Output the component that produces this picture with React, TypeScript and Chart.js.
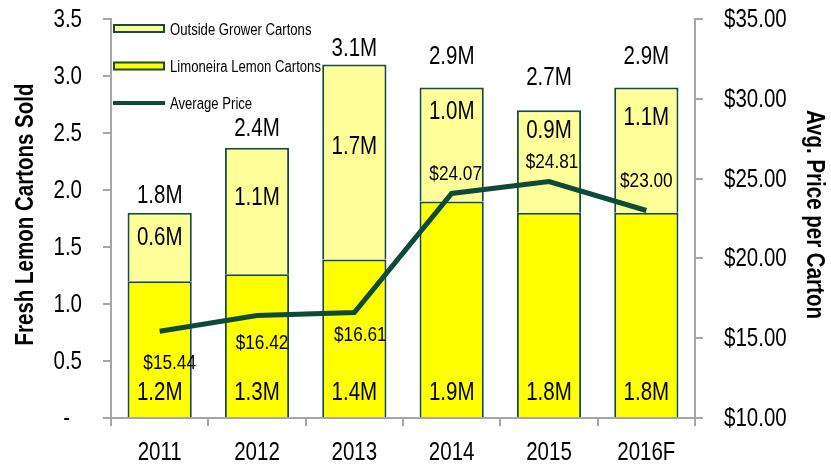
import React, { useEffect, useRef } from 'react';
import { Chart, registerables } from 'chart.js';

Chart.register(...registerables);

const categories = ['2011', '2012', '2013', '2014', '2015', '2016F'];
const limoneiraCartons = [1.2, 1.26, 1.39, 1.9, 1.8, 1.8];
const outsideCartons = [0.6, 1.11, 1.71, 1.0, 0.9, 1.1];
const avgPrice = [15.44, 16.42, 16.61, 24.07, 24.81, 23.0];
const seriesNames = ['Limoneira Lemon Cartons', 'Outside Grower Cartons', 'Average Price'];
const leftTitle = 'Fresh Lemon Cartons Sold';
const rightTitle = 'Avg. Price per Carton';

const FONT = "'Liberation Sans', Arial, sans-serif";
const SX = 0.82; // condensed (Arial Narrow look)
const GREEN = '#0e4a3a';
const BORDER = '#174c3d';
const AXIS = '#a6a6a6';
const YELLOW = '#ffff00';
const LIGHT = '#ffff99';

// label placement (pixel offsets relative to marks)
const totalGap = [10, 12, 9, 23, 25, 23];
const outsideGap = [32, 57, 89, 32, 28, 38];
const priceDx = [10, 5, 6, 4, 3, 0];
const priceDy = [38, 33, 28, -13, -14, -24];

function txt(
  ctx: CanvasRenderingContext2D,
  s: string,
  x: number,
  y: number,
  align: CanvasTextAlign,
  size: number,
  bold = false,
  rot = 0,
) {
  ctx.save();
  ctx.translate(x, y);
  if (rot) ctx.rotate(rot);
  ctx.scale(SX, 1);
  ctx.font = `${bold ? 'bold ' : ''}${size}px ${FONT}`;
  ctx.textAlign = align;
  ctx.textBaseline = 'alphabetic';
  ctx.fillStyle = '#000';
  ctx.fillText(s, 0, 0);
  ctx.restore();
}

const textPlugin = {
  id: 'textPlugin',
  afterDraw(chart: any) {
    const ctx: CanvasRenderingContext2D = chart.ctx;
    const area = chart.chartArea;
    const ys = chart.scales.y;
    const y1s = chart.scales.y1;
    const xs = chart.scales.x;
    const d0 = chart.data.datasets[0].data as number[];
    const d1 = chart.data.datasets[1].data as number[];
    const d2 = chart.data.datasets[2].data as number[];

    // axis tick labels
    ys.ticks.forEach((t: any) => {
      const py = ys.getPixelForValue(t.value);
      if (t.value === 0) txt(ctx, '-', area.left - 41, py + 8, 'right', 25);
      else txt(ctx, Number(t.value).toFixed(1), area.left - 29, py + 8, 'right', 25);
    });
    y1s.ticks.forEach((t: any) => {
      const py = y1s.getPixelForValue(t.value);
      txt(ctx, '$' + Number(t.value).toFixed(2), area.right + 29, py + 8, 'left', 25);
    });
    (chart.data.labels as string[]).forEach((lab, i) => {
      txt(ctx, lab, xs.getPixelForTick(i), area.bottom + 42, 'center', 25);
    });
    const cy = (area.top + area.bottom) / 2 - 4;
    txt(ctx, leftTitle, 33, cy, 'center', 25, true, -Math.PI / 2);
    txt(ctx, rightTitle, chart.width - 24, cy, 'center', 25, true, Math.PI / 2);

    // data labels
    const m0 = chart.getDatasetMeta(0);
    const m1 = chart.getDatasetMeta(1);
    const m2 = chart.getDatasetMeta(2);
    m0.data.forEach((bar: any, i: number) => {
      txt(ctx, d0[i].toFixed(1) + 'M', bar.x, bar.base - 17, 'center', 25);
    });
    m1.data.forEach((bar: any, i: number) => {
      txt(ctx, d1[i].toFixed(1) + 'M', bar.x, bar.y + outsideGap[i], 'center', 25);
      txt(ctx, (d0[i] + d1[i]).toFixed(1) + 'M', bar.x, bar.y - totalGap[i], 'center', 25);
    });
    m2.data.forEach((pt: any, i: number) => {
      txt(ctx, '$' + d2[i].toFixed(2), pt.x + priceDx[i], pt.y + priceDy[i], 'center', 21);
    });

    // legend
    const ds = chart.data.datasets;
    const order = [1, 0, 2];
    const x0 = area.left + 2;
    const w = 52;
    ctx.save();
    order.forEach((di, row) => {
      const y = [28.5, 66, 103][row];
      const d = ds[di];
      if (d.type === 'line') {
        ctx.strokeStyle = d.borderColor;
        ctx.lineWidth = 4;
        ctx.beginPath();
        ctx.moveTo(x0, y);
        ctx.lineTo(x0 + w, y);
        ctx.stroke();
      } else {
        ctx.fillStyle = d.backgroundColor;
        ctx.fillRect(x0, y - 4.5, w, 9);
        ctx.strokeStyle = d.borderColor;
        ctx.lineWidth = 2;
        ctx.strokeRect(x0 + 1, y - 3.5, w - 2, 7);
      }
      txt(ctx, d.label, x0 + w + 5, y + 6, 'left', 16);
    });
    ctx.restore();
  },
};

export default function App() {
  const ref = useRef<HTMLCanvasElement>(null);
  useEffect(() => {
    if (!ref.current) return;
    const axisCommon = {
      grid: { drawOnChartArea: false, tickLength: 8, color: AXIS, lineWidth: 2 },
      border: { color: AXIS, width: 2 },
    };
    const chart = new Chart(ref.current, {
      type: 'bar',
      data: {
        labels: categories,
        datasets: [
          {
            type: 'bar',
            label: seriesNames[0],
            data: limoneiraCartons,
            backgroundColor: YELLOW,
            borderColor: BORDER,
            borderWidth: 2,
            borderSkipped: 'start',
            barPercentage: 0.66,
            categoryPercentage: 1,
            yAxisID: 'y',
            order: 2,
          },
          {
            type: 'bar',
            label: seriesNames[1],
            data: outsideCartons,
            backgroundColor: LIGHT,
            borderColor: BORDER,
            borderWidth: 2,
            borderSkipped: 'start',
            barPercentage: 0.66,
            categoryPercentage: 1,
            yAxisID: 'y',
            order: 2,
          },
          {
            type: 'line',
            label: seriesNames[2],
            data: avgPrice,
            borderColor: GREEN,
            backgroundColor: GREEN,
            borderWidth: 5,
            pointRadius: 0,
            tension: 0,
            yAxisID: 'y1',
            order: 0,
          } as any,
        ],
      },
      options: {
        animation: false,
        responsive: false,
        layout: { padding: { top: 19, left: 0, right: 0, bottom: 0 } },
        plugins: { legend: { display: false }, tooltip: { enabled: false } },
        scales: {
          x: {
            stacked: true,
            offset: true,
            grid: { offset: true, drawOnChartArea: false, tickLength: 8, color: AXIS, lineWidth: 2 },
            border: { color: AXIS, width: 2 },
            ticks: { display: false },
            afterFit: (s: any) => { s.height = 46; },
          },
          y: {
            ...axisCommon,
            stacked: true,
            position: 'left',
            min: 0,
            max: 3.5,
            ticks: { stepSize: 0.5, display: false },
            afterFit: (s: any) => { s.width = 111; },
          },
          y1: {
            ...axisCommon,
            position: 'right',
            min: 10,
            max: 35,
            ticks: { stepSize: 5, display: false },
            afterFit: (s: any) => { s.width = 136; },
          },
        },
      } as any,
      plugins: [textPlugin],
    });
    return () => chart.destroy();
  }, []);
  return (
    <div style={{ position: 'fixed', left: 0, top: 0, width: 831, height: 464, background: '#fff' }}>
      <canvas ref={ref} width={831} height={464} style={{ display: 'block' }} />
    </div>
  );
}
